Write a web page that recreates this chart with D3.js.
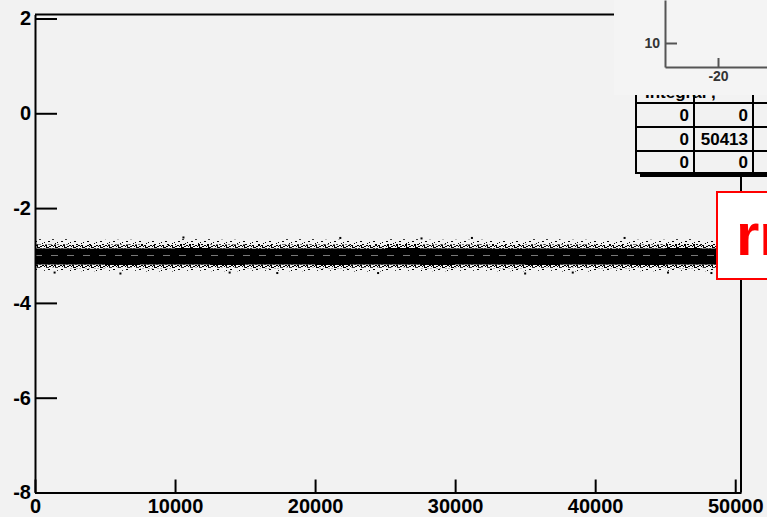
<!DOCTYPE html>
<html><head><meta charset="utf-8">
<script src="https://cdn.jsdelivr.net/npm/d3@7"></script>
<style>
html,body{margin:0;padding:0;background:#f2f2f2;overflow:hidden}
svg{display:block}
text{font-family:"Liberation Sans",Arial,Helvetica,sans-serif;font-weight:bold}
</style></head>
<body>
<script>
// ---------------- data ----------------
const xTickMajor = [0, 10000, 20000, 30000, 40000, 50000];
const yTickMajor = [2, 0, -2, -4, -6, -8];
const nEntries = 50413;
// x bin edges of the scatter band
const binX = [0,2500,5000,7500,10000,12500,15000,17500,20000,22500,25000,27500,30000,32500,35000,37500,40000,42500,45000,47500,50413];
// envelope of the scattered points in each bin (y values)
const outerTop    = [-2.66,-2.68,-2.67,-2.69,-2.66,-2.67,-2.68,-2.66,-2.67,-2.68,-2.66,-2.67,-2.67,-2.68,-2.66,-2.67,-2.68,-2.67,-2.66,-2.68,-2.68];
const innerTop    = [-2.77,-2.78,-2.77,-2.78,-2.76,-2.77,-2.78,-2.77,-2.77,-2.78,-2.76,-2.77,-2.77,-2.78,-2.77,-2.77,-2.78,-2.77,-2.76,-2.78,-2.78];
const coreTop     = [-2.85,-2.86,-2.85,-2.85,-2.84,-2.85,-2.86,-2.85,-2.85,-2.86,-2.84,-2.85,-2.85,-2.86,-2.85,-2.85,-2.86,-2.85,-2.84,-2.85,-2.85];
const coreBottom  = [-3.19,-3.19,-3.20,-3.19,-3.19,-3.20,-3.19,-3.19,-3.20,-3.19,-3.19,-3.20,-3.19,-3.19,-3.20,-3.19,-3.19,-3.20,-3.19,-3.19,-3.19];
const innerBottom = [-3.26,-3.27,-3.26,-3.27,-3.26,-3.26,-3.27,-3.26,-3.27,-3.26,-3.26,-3.27,-3.26,-3.27,-3.26,-3.26,-3.27,-3.26,-3.27,-3.26,-3.26];
const outerBottom = [-3.32,-3.33,-3.32,-3.34,-3.32,-3.33,-3.32,-3.33,-3.32,-3.34,-3.32,-3.33,-3.32,-3.33,-3.32,-3.34,-3.32,-3.33,-3.32,-3.33,-3.33];
const gapValue = -3.0;
// isolated extreme points
const outlierX = [1400, 6100, 10600, 13900, 17300, 21800, 24500, 27600, 31200, 35000, 38400, 42100, 45200, 48300];
const outlierY = [-3.36, -3.38, -2.62, -3.36, -3.37, -2.63, -3.37, -2.64, -2.63, -3.38, -3.36, -2.63, -3.36, -3.37];
// stats table
const tableRows = [["0","0"],["0","50413"],["0","0"]];
// inset
const insetYTicks = [5,6,7,8,9,10,20,30];
const insetYLabels = [10];
const insetXTicks = [-35,-30,-25,-20,-15,-10,-5];
const insetXLabels = [-20];
const boxText = "rms";

// ---------------- drawing ----------------
const W = 767, H = 517;
const fmt = d => String(d);
const svg = d3.select("body").append("svg").attr("width", W).attr("height", H);
svg.append("rect").attr("width", W).attr("height", H).attr("fill", "#f2f2f2");

const defs = svg.append("defs");
const pd = defs.append("pattern").attr("id","dense").attr("width",9).attr("height",5).attr("patternUnits","userSpaceOnUse");
[[0,0,2,1],[4,1,2,1],[6,0,2,1],[2,2,2,1],[7,3,2,1],[0,4,2,1],[5,3,1,1],[3,4,2,1],[8,1,1,1],[1,2,1,1],[4,3,1,1],[1,1,1,1]]
  .forEach(r=>pd.append("rect").attr("x",r[0]).attr("y",r[1]).attr("width",r[2]).attr("height",r[3]).attr("fill","#000"));
const ps = defs.append("pattern").attr("id","sparse").attr("width",13).attr("height",7).attr("patternUnits","userSpaceOnUse");
[[0,1,2,1],[6,0,1,1],[9,3,2,1],[3,5,1,1],[11,6,2,1],[5,4,1,1]]
  .forEach(r=>ps.append("rect").attr("x",r[0]).attr("y",r[1]).attr("width",r[2]).attr("height",r[3]).attr("fill","#000"));

const x = d3.scaleLinear().domain([0, nEntries]).range([35, 741]);
const y = d3.scaleLinear().domain([-8, 2.084]).range([492.5, 14.5]);

// band
const idx = d3.range(binX.length);
function band(lo, hi, fill){
  const a = d3.area().curve(d3.curveStepAfter)
    .x(i=>x(binX[i])).y0(i=>y(lo[i])).y1(i=>y(hi[i]));
  svg.append("path").attr("d", a(idx)).attr("fill", fill);
}
band(innerTop, outerTop, "url(#sparse)");
band(coreTop, innerTop, "url(#dense)");
band(coreBottom, coreTop, "#000");
band(innerBottom, coreBottom, "url(#dense)");
band(outerBottom, innerBottom, "url(#sparse)");
svg.append("line").attr("x1", x(0)).attr("x2", x(nEntries)).attr("y1", y(gapValue)).attr("y2", y(gapValue))
  .attr("stroke","#7a7a7a").attr("stroke-width",1).attr("stroke-dasharray","7 9");
svg.selectAll(".out").data(outlierX).enter().append("rect")
  .attr("x",(d)=>x(d)-1).attr("y",(d,i)=>y(outlierY[i])-1).attr("width",2).attr("height",2).attr("fill","#000");

// frame
svg.append("path").attr("d", `M${x(0)},${y(2.084)}H${x(nEntries)}V${y(-8)}`)
  .attr("fill","none").attr("stroke","#000").attr("stroke-width",2);

// x axis
const gx = svg.append("g").attr("transform", `translate(0,${y(-8)})`);
gx.call(d3.axisBottom(x).tickValues(d3.range(0, 50001, 2000)).tickSize(-7).tickSizeOuter(0).tickFormat(""));
gx.call(d3.axisBottom(x).tickValues(xTickMajor).tickSize(-13).tickSizeOuter(0).tickPadding(6).tickFormat(fmt));
gx.selectAll("line,path").attr("stroke","#000").attr("stroke-width",2);
gx.selectAll("text").attr("font-size",20).attr("fill","#000").style("font-family",'"Liberation Sans",Arial,sans-serif').style("font-weight","bold");

// y axis
const gy = svg.append("g").attr("transform", `translate(${x(0)},0)`);
gy.call(d3.axisLeft(y).tickValues(d3.range(-8, 2.01, 0.5)).tickSize(-12).tickSizeOuter(0).tickFormat(""));
gy.call(d3.axisLeft(y).tickValues(yTickMajor).tickSize(-22).tickSizeOuter(0).tickPadding(4).tickFormat(fmt));
gy.selectAll("line,path").attr("stroke","#000").attr("stroke-width",2);
gy.selectAll("text").attr("font-size",20).attr("fill","#000").style("font-family",'"Liberation Sans",Arial,sans-serif').style("font-weight","bold");

// stats table
const colX = [636, 694, 753, 812];
const rowY = [79, 103, 127, 151, 173];
const tb = svg.append("g");
tb.append("rect").attr("x", colX[0]+4).attr("y", rowY[4]+1).attr("width", 200).attr("height", 3).attr("fill","#000");
tb.append("rect").attr("x", colX[0]).attr("y", rowY[0]).attr("width", 200).attr("height", rowY[4]-rowY[0])
  .attr("fill","#f2f2f2").attr("stroke","#000").attr("stroke-width",2);
rowY.slice(1,4).forEach(r=>tb.append("line").attr("x1",colX[0]).attr("x2",W).attr("y1",r).attr("y2",r).attr("stroke","#000").attr("stroke-width",2));
colX.slice(1).forEach(c=>tb.append("line").attr("x1",c).attr("x2",c).attr("y1",rowY[0]).attr("y2",rowY[4]).attr("stroke","#000").attr("stroke-width",2));
tableRows.forEach((row, r)=>{
  row.forEach((v, c)=>{
    tb.append("text").attr("x", colX[c+1]-5).attr("y", (rowY[r+1]+rowY[r+2])/2 + 6)
      .attr("text-anchor","end").attr("font-size",17).attr("fill","#000").text(v);
  });
});
tb.append("text").attr("x", 645).attr("y", 98).attr("font-size",17).text("Integral ,");

// inset pad (covers top of table)
const inset = svg.append("g");
inset.append("rect").attr("x", 614).attr("y", 0).attr("width", W-614).attr("height", 95).attr("fill","#f4f4f4");
const ix = d3.scaleLinear().domain([-37.67, -3.67]).range([665, 767]);
const iy = d3.scaleLog().domain([4.69, 38.8]).range([67, 0]);
const gix = inset.append("g").attr("transform","translate(0,67)");
gix.call(d3.axisBottom(ix).tickValues(insetXTicks).tickSize(-5).tickSizeOuter(0).tickFormat(""));
gix.call(d3.axisBottom(ix).tickValues(insetXLabels).tickSize(-9).tickSizeOuter(0).tickPadding(4).tickFormat(fmt));
const giy = inset.append("g").attr("transform","translate(665,0)");
giy.call(d3.axisLeft(iy).tickValues(insetYTicks).tickSize(-7).tickSizeOuter(0).tickFormat(""));
giy.call(d3.axisLeft(iy).tickValues(insetYLabels).tickSize(-12).tickSizeOuter(0).tickPadding(5).tickFormat(fmt));
inset.selectAll("line,path").attr("stroke","#555").attr("stroke-width",2);
inset.selectAll(".tick text").attr("font-size",14).attr("fill","#333").style("font-family",'"Liberation Sans",Arial,sans-serif').style("font-weight","bold");

// red label box
const rb = svg.append("g");
rb.append("rect").attr("x", 717).attr("y", 192).attr("width", 100).attr("height", 87)
  .attr("fill","#fff").attr("stroke","#ff0000").attr("stroke-width",2);
rb.append("text").attr("x", 736).attr("y", 255).attr("font-size",60).attr("fill","#ff0000").text(boxText);
</script>
</body></html>
